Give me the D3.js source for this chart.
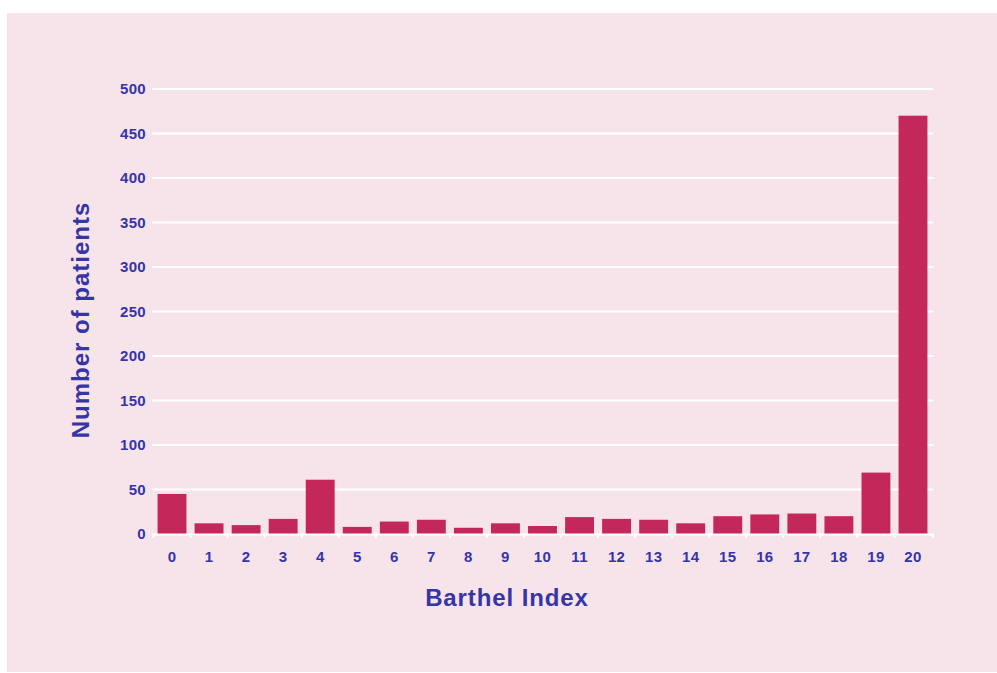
<!DOCTYPE html>
<html><head><meta charset="utf-8">
<script src="https://cdn.jsdelivr.net/npm/d3@7"></script>
<style>body{margin:0;background:#fff;}svg{display:block;}</style>
</head><body>
<svg id="c" width="997" height="673"></svg>
<script>
const categories = ["0","1","2","3","4","5","6","7","8","9","10","11","12","13","14","15","16","17","18","19","20"];
const patients = [45,12,10,17,61,8,14,16,7,12,9,19,17,16,12,20,22,23,20,69,470];
const yTicks = [0,50,100,150,200,250,300,350,400,450,500];
const xTitle = "Barthel Index";
const yTitle = "Number of patients";

(function(){
const svg = d3.select("#c");
const textColor = "#3535a8";
const font = "Liberation Sans, Arial, sans-serif";
svg.append("rect").attr("x",7).attr("y",13).attr("width",990).attr("height",659).attr("fill","#f7e4ea");

const mLeft = 152, mRight = 933, mTop = 89, mBottom = 534;
const x = d3.scaleBand().domain(categories).range([mLeft,mRight]).paddingInner(0.22).paddingOuter(0.15);
const y = d3.scaleLinear().domain([0,500]).range([mBottom,mTop]);

svg.append("g").selectAll("line").data(yTicks.filter(d=>d>0)).join("line")
  .attr("x1",mLeft).attr("x2",mRight).attr("y1",d=>y(d)).attr("y2",d=>y(d))
  .attr("stroke","#ffffff").attr("stroke-width",2);

const yAxis = d3.axisLeft(y).tickValues(yTicks).tickSize(0).tickPadding(6);
const gy = svg.append("g").attr("transform",`translate(${mLeft},0)`).call(yAxis);
gy.select(".domain").remove();
gy.selectAll("text").attr("fill",textColor).style("font-family",font)
  .style("font-weight","bold").style("font-size","15px").style("letter-spacing","0.3px");

svg.append("g").selectAll("rect").data(patients).join("rect")
  .attr("x",(d,i)=>x(categories[i])).attr("width",x.bandwidth())
  .attr("y",d=>y(d)).attr("height",d=>mBottom-y(d)).attr("fill","#c4285a");

const xAxis = d3.axisBottom(x).tickSize(0).tickPadding(17);
const gx = svg.append("g").attr("transform",`translate(0,${mBottom})`).call(xAxis);
gx.select(".domain").attr("stroke","#ffffff").attr("stroke-width",2);
gx.selectAll("text").attr("fill",textColor).style("font-family",font)
  .style("font-weight","bold").style("font-size","15px").style("letter-spacing","0.3px");
const step = x.step();
const boundaries = categories.map(c=>x(c)-step*x.paddingInner()/2).concat([mRight]);
svg.append("g").selectAll("line").data(boundaries).join("line")
  .attr("x1",d=>d).attr("x2",d=>d).attr("y1",mBottom).attr("y2",mBottom+4)
  .attr("stroke","#ffffff").attr("stroke-width",2);

svg.append("text").attr("x",507).attr("y",606).attr("text-anchor","middle")
  .attr("fill",textColor).style("font-family",font).style("letter-spacing","0.9px")
  .style("font-weight","bold").style("font-size","24px").text(xTitle);
svg.append("text").attr("transform","translate(89,320) rotate(-90)").attr("text-anchor","middle")
  .attr("fill",textColor).style("font-family",font).style("letter-spacing","1px")
  .style("font-weight","bold").style("font-size","24px").text(yTitle);
})();
</script>
</body></html>
